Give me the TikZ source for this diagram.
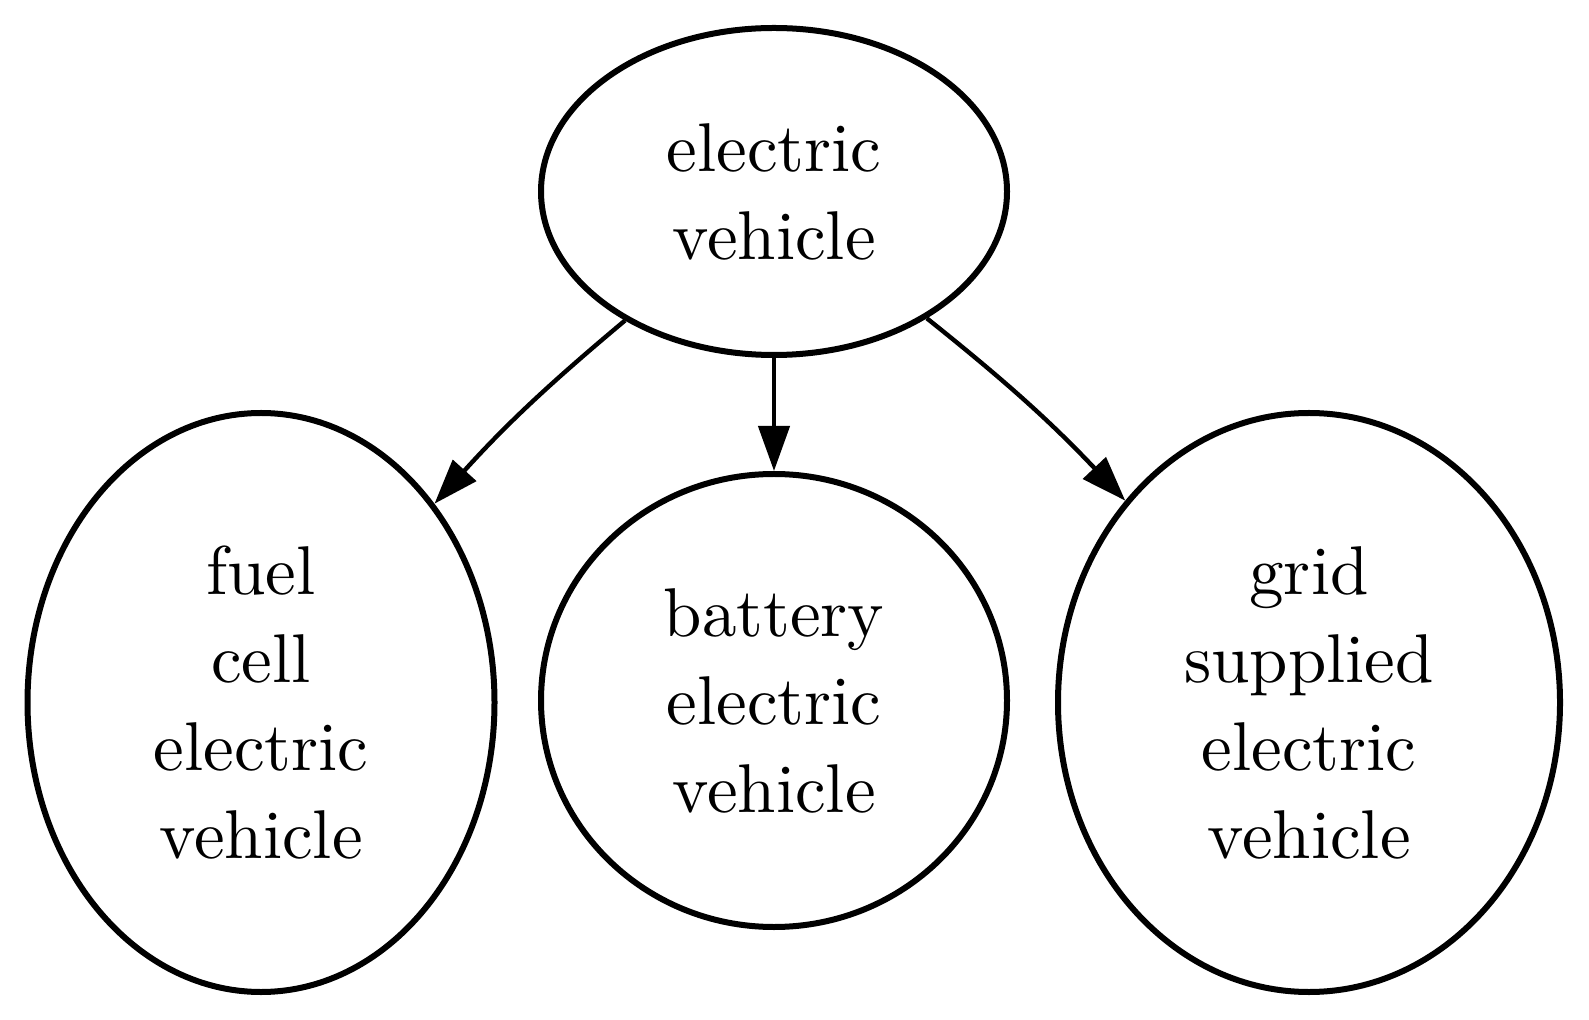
\documentclass[tikz,border=0pt]{standalone}
\usepackage{fontspec}
\newfontfamily\lmten{lmroman10-regular.otf}
\usetikzlibrary{shapes.geometric,arrows.meta}
\begin{document}
\begin{tikzpicture}[x=0.5pt,y=-0.5pt,
  main node/.style={ellipse,draw,line width=3pt,inner sep=0pt,align=center,font=\lmten\fontsize{34.5}{44}\selectfont},
  link/.style={line width=2.2pt,-{Triangle[length=22.5pt,width=15.5pt]}}]
  \useasboundingbox (0,0) rectangle (1589,1020);
  \node[main node,minimum width=233pt,minimum height=163.5pt] (ev) at (774,191.5) {electric\\vehicle};
  \node[main node,minimum width=233.5pt,minimum height=289.5pt] (fcev) at (261,702.5) {fuel\\cell\\electric\\vehicle};
  \node[main node,minimum width=233pt,minimum height=226.5pt] (bev) at (774,700.5) {battery\\electric\\vehicle};
  \node[main node,minimum width=251pt,minimum height=289.5pt] (gsev) at (1309,702.5) {grid\\supplied\\electric\\vehicle};

  \path[link]
    (ev) edge [bend right=4] (fcev)
    (ev) edge (bev)
    (ev) edge [bend left=4] (gsev);
\end{tikzpicture}
\end{document}
